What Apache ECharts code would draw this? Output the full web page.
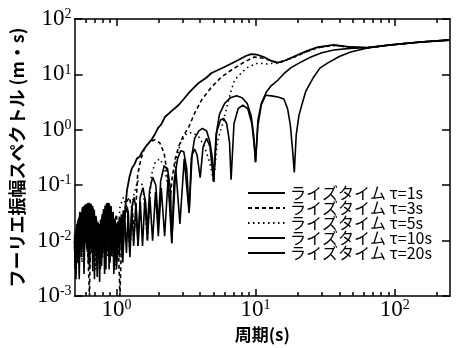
<!DOCTYPE html>
<html>
<head>
<meta charset="utf-8">
<script src="https://cdn.jsdelivr.net/npm/echarts@6/dist/echarts.min.js"></script>
<style>
  html, body { margin: 0; padding: 0; background: #fff; }
  #chart { width: 458px; height: 348px; }
</style>
</head>
<body>
<div id="chart"></div>
<script>
// legend labels
const legendNames = ['ライズタイム τ=1s', 'ライズタイム τ=3s', 'ライズタイム τ=5s', 'ライズタイム τ=10s', 'ライズタイム τ=20s'];

// tick positions (period, s) and amplitude decades
const majorX = [1, 10, 100];
const minorX = [0.6, 0.7, 0.8, 0.9, 2, 3, 4, 5, 6, 7, 8, 9, 20, 30, 40, 50, 60, 70, 80, 90, 200];
const majorY = [0.001, 0.01, 0.1, 1, 10, 100];

// [period (s), Fourier amplitude (m·s)]
const rise1 = [
  [0.50,0.010],[0.505,0.004],[0.51,0.014],[0.517,0.005],[0.523,0.02],[0.53,0.006],[0.537,0.026],[0.545,0.008],
  [0.553,0.032],[0.56,0.009],[0.568,0.038],[0.576,0.012],[0.585,0.042],[0.593,0.01],[0.602,0.045],[0.61,0.013],
  [0.62,0.047],[0.628,0.011],[0.637,0.048],[0.646,0.014],[0.655,0.046],[0.664,0.01],[0.673,0.042],[0.682,0.012],
  [0.692,0.036],[0.70,0.008],[0.71,0.028],[0.72,0.006],[0.73,0.022],[0.74,0.005],[0.75,0.02],[0.76,0.007],
  [0.77,0.024],[0.78,0.008],[0.79,0.03],[0.80,0.01],[0.81,0.037],[0.82,0.012],[0.83,0.043],[0.84,0.011],
  [0.85,0.047],[0.86,0.013],[0.87,0.048],[0.88,0.012],[0.89,0.045],[0.90,0.01],[0.91,0.04],[0.92,0.008],
  [0.935,0.032],[0.95,0.006],[0.965,0.025],[0.98,0.005],[0.995,0.02],[1.01,0.007],[1.025,0.022],[1.04,0.008],
  [1.055,0.026],[1.07,0.01],[1.085,0.03],[1.10,0.012],[1.12,0.035],[1.14,0.025],
  [1.19,0.08],[1.24,0.14],[1.29,0.2],[1.35,0.24],[1.4,0.3],[1.47,0.33],[1.53,0.4],[1.65,0.52],[1.8,0.68],
  [1.9,0.85],[2.0,1.1],[2.1,1.25],[2.23,1.7],[2.5,2.2],[2.8,2.8],[3.05,3.6],[3.31,4.62],[3.9,7.0],[4.4,8.6],
  [4.83,10.6],[5.98,13.6],[7.52,18.2],[8.5,21.5],[9.31,23.2],[10.2,22.8],[11.5,20.6],[13,17.5],
  [14.5,16.3],[16.5,18],[18.9,21],[23,26],[28,31],[36.5,34],[48.3,31.2],[63.9,30.5],[93.1,34],[153,38.4],[250,41.8]
];
const rise3 = [
  [0.50,0.011],[0.51,0.006],[0.52,0.018],[0.535,0.004],[0.55,0.028],[0.565,0.007],[0.58,0.04],[0.595,0.009],
  [0.61,0.044],[0.625,0.005],[0.64,0.001],[0.655,0.03],[0.67,0.012],[0.685,0.035],[0.70,0.006],[0.715,0.02],
  [0.73,0.003],[0.745,0.018],[0.76,0.005],[0.78,0.022],[0.795,0.006],[0.81,0.035],[0.825,0.009],[0.845,0.044],
  [0.86,0.008],[0.875,0.046],[0.89,0.01],[0.905,0.04],[0.92,0.005],[0.94,0.03],[0.96,0.004],[0.98,0.022],
  [1.0,0.03],[1.03,0.01],[1.06,0.001],[1.09,0.012],[1.13,0.03],[1.18,0.05],[1.24,0.06],[1.3,0.035],[1.35,0.015],
  [1.42,0.15],[1.5,0.3],[1.6,0.48],[1.75,0.62],[1.9,0.66],[2.05,0.58],[2.2,0.38],[2.33,0.15],[2.42,0.05],
  [2.52,0.14],[2.65,0.3],[2.8,0.5],[3.0,0.75],[3.31,1.12],[3.65,2.0],[4.09,3.45],[4.83,5.9],[5.7,9.0],
  [6.7,12],[8.3,16.7],[9.8,20.6],[11.5,19.5],[14.5,16],[18.9,20.5],[23,25.5],[28,30.5],[36.5,33.5],
  [48.3,31],[63.9,30.2],[93.1,34],[153,38.4],[250,41.8]
];
const rise5 = [
  [0.50,0.009],[0.507,0.016],[0.515,0.003],[0.525,0.022],[0.54,0.005],[0.552,0.03],[0.565,0.004],[0.578,0.038],
  [0.59,0.008],[0.605,0.043],[0.618,0.006],[0.632,0.046],[0.645,0.004],[0.66,0.042],[0.675,0.007],[0.69,0.033],
  [0.705,0.003],[0.72,0.024],[0.735,0.004],[0.752,0.02],[0.768,0.003],[0.785,0.026],[0.80,0.005],[0.815,0.036],
  [0.83,0.006],[0.85,0.045],[0.865,0.005],[0.882,0.045],[0.90,0.004],[0.918,0.036],[0.935,0.005],[0.955,0.026],
  [0.975,0.003],[0.99,0.02],[1.0,0.004],[1.06,0.04],[1.12,0.06],[1.19,0.04],[1.25,0.006],[1.32,0.06],
  [1.42,0.12],[1.55,0.1],[1.67,0.01],[1.78,0.15],[1.9,0.26],[2.05,0.3],[2.2,0.22],[2.38,0.08],[2.5,0.012],
  [2.65,0.25],[2.9,0.6],[3.2,0.85],[3.5,0.9],[3.9,0.75],[4.3,0.5],[4.7,0.25],[5.0,0.115],[5.3,0.6],
  [5.9,1.5],[6.4,3.4],[6.7,5.2],[7.06,7.9],[8.0,11],[8.87,13.6],[10.4,16],[12.1,15.4],[13.6,16],[14.5,15.8],
  [18.9,20.3],[23,25.5],[28,30.3],[36.5,33.3],[48.3,31],[63.9,30],[93.1,34],[153,38.4],[250,41.8]
];
const rise10 = [
  [0.50,0.013],[0.512,0.002],[0.52,0.02],[0.532,0.006],[0.545,0.033],[0.558,0.005],[0.572,0.041],[0.585,0.0025],
  [0.598,0.045],[0.612,0.007],[0.625,0.047],[0.64,0.003],[0.652,0.044],[0.667,0.006],[0.68,0.038],[0.695,0.002],
  [0.708,0.026],[0.724,0.005],[0.74,0.021],[0.757,0.0018],[0.773,0.023],[0.79,0.005],[0.806,0.032],[0.822,0.0025],
  [0.838,0.042],[0.855,0.006],[0.87,0.047],[0.886,0.003],[0.902,0.042],[0.92,0.006],[0.94,0.03],[0.958,0.0025],
  [0.975,0.022],[0.99,0.006],[1.0,0.003],[1.05,0.025],[1.11,0.004],[1.15,0.03],[1.2,0.04],[1.25,0.005],
  [1.29,0.04],[1.34,0.06],[1.39,0.035],[1.43,0.008],[1.48,0.06],[1.55,0.09],[1.62,0.05],[1.67,0.015],
  [1.73,0.08],[1.82,0.14],[1.92,0.1],[2.0,0.02],[2.08,0.12],[2.2,0.22],[2.33,0.2],[2.45,0.08],[2.5,0.009],
  [2.6,0.12],[2.75,0.3],[2.9,0.42],[3.05,0.4],[3.2,0.2],[3.33,0.032],[3.45,0.3],[3.65,0.7],[3.9,0.95],
  [4.15,1.06],[4.45,0.95],[4.7,0.6],[4.9,0.3],[5.0,0.115],[5.2,0.8],[5.5,1.9],[6.0,3.0],[6.6,3.8],[7.3,4.1],
  [8.0,3.8],[8.7,3.0],[9.3,1.8],[9.7,0.8],[10.0,0.26],[10.4,1.5],[11.0,3.0],[11.95,4.8],[13,6.3],[14.5,7.9],
  [16,10.3],[17.9,13.1],[21,16.5],[25,20.6],[30,24.5],[36.5,27.5],[48,29.5],[63.9,30.5],[93.1,34],[153,38.4],[250,41.8]
];
const rise20 = [
  [0.50,0.008],[0.506,0.003],[0.514,0.017],[0.522,0.004],[0.53,0.024],[0.54,0.002],[0.55,0.03],[0.561,0.008],
  [0.572,0.036],[0.583,0.004],[0.594,0.043],[0.605,0.009],[0.616,0.046],[0.628,0.004],[0.64,0.047],[0.652,0.008],
  [0.664,0.043],[0.676,0.0028],[0.688,0.036],[0.70,0.006],[0.713,0.027],[0.727,0.0022],[0.74,0.02],[0.754,0.006],
  [0.768,0.02],[0.782,0.0035],[0.796,0.028],[0.81,0.007],[0.825,0.037],[0.84,0.003],[0.855,0.044],[0.87,0.008],
  [0.885,0.047],[0.90,0.004],[0.915,0.042],[0.93,0.007],[0.947,0.033],[0.963,0.003],[0.98,0.024],[1.0,0.004],
  [1.025,0.02],[1.05,0.005],[1.08,0.025],[1.11,0.006],[1.145,0.03],[1.18,0.006],[1.215,0.035],[1.25,0.007],
  [1.29,0.04],[1.33,0.008],[1.38,0.045],[1.43,0.008],[1.485,0.05],[1.54,0.008],[1.6,0.055],[1.67,0.01],
  [1.74,0.06],[1.82,0.01],[1.91,0.075],[2.0,0.012],[2.1,0.09],[2.22,0.012],[2.35,0.13],[2.5,0.009],
  [2.67,0.2],[2.86,0.02],[3.07,0.3],[3.33,0.032],[3.5,0.35],[3.65,0.45],[3.8,0.35],[4.0,0.137],[4.2,0.5],
  [4.45,0.7],[4.7,0.5],[5.0,0.115],[5.25,0.9],[5.6,1.5],[5.9,1.6],[6.2,1.3],[6.5,0.6],[6.67,0.125],[7.0,1.3],
  [7.5,2.4],[8.1,2.8],[8.8,2.4],[9.4,1.3],[9.8,0.5],[10.0,0.26],[10.4,1.2],[11.0,2.8],[11.8,4.2],[13,4.1],
  [14.5,3.9],[16,3.6],[17,2.4],[17.8,1.2],[18.5,0.4],[19.0,0.17],[19.6,0.8],[20.5,1.8],[21.5,2.8],[23,5],
  [26.2,9],[29,13],[32.9,16],[40,21],[48.3,25.4],[63.9,30],[93.1,34],[153,38.4],[250,41.8]
];

const seriesData = [rise1, rise3, rise5, rise10, rise20];
const dashTypes = ['solid', [4, 3], [1.5, 3.5], 'solid', 'solid'];

const myChart = echarts.init(document.getElementById('chart'), null, { renderer: 'canvas' });

const serif = 'Liberation Serif';
const jp = 'Noto Sans CJK JP';
const powLabel = v => '{b|10}{e|' + Math.round(Math.log10(v)) + '}';
const powRich = {
  b: { fontSize: 23, fontFamily: serif, color: '#000' },
  e: { fontSize: 14, fontFamily: serif, color: '#000', verticalAlign: 'top', padding: [0, 0, 8, 0] }
};
const black = { color: '#000', width: 1.5 };

const xBase = { type: 'log', logBase: 10, min: 0.5, max: 250, splitLine: { show: false }, minorTick: { show: false } };
const yBase = { type: 'log', logBase: 10, min: 0.001, max: 100, splitLine: { show: false }, minorTick: { show: false } };

myChart.setOption({
  animation: false,
  backgroundColor: '#fff',
  grid: { left: 72, right: 8, top: 19, bottom: 52 },
  legend: {
    orient: 'vertical',
    left: 242,
    top: 180,
    itemWidth: 37,
    itemHeight: 10,
    itemGap: -1,
    itemStyle: { opacity: 0 },
    textStyle: { fontSize: 16, fontFamily: jp, color: '#000', lineHeight: 16 },
    data: legendNames
  },
  xAxis: [
    Object.assign({}, xBase, {
      position: 'bottom',
      name: '周期(s)', nameLocation: 'middle', nameGap: 15,
      nameTextStyle: { fontSize: 17, fontFamily: jp, color: '#000', fontWeight: 'bold' },
      axisLine: { lineStyle: black },
      axisTick: { inside: true, length: 7, customValues: majorX, lineStyle: black },
      axisLabel: { customValues: majorX, formatter: powLabel, rich: powRich, margin: 2 }
    }),
    Object.assign({}, xBase, {
      position: 'bottom',
      axisLine: { show: false },
      axisTick: { inside: true, length: 4, customValues: minorX, lineStyle: black },
      axisLabel: { show: false }
    }),
    Object.assign({}, xBase, {
      position: 'top',
      axisLine: { lineStyle: black },
      axisTick: { inside: true, length: 7, customValues: majorX, lineStyle: black },
      axisLabel: { show: false }
    }),
    Object.assign({}, xBase, {
      position: 'top',
      axisLine: { show: false },
      axisTick: { inside: true, length: 4, customValues: minorX, lineStyle: black },
      axisLabel: { show: false }
    })
  ],
  yAxis: [
    Object.assign({}, yBase, {
      position: 'left',
      name: 'フーリエ振幅スペクトル (m・s)', nameLocation: 'middle', nameGap: 37, nameRotate: 90,
      nameTextStyle: { fontSize: 18, fontFamily: jp, color: '#000', fontWeight: 'bold' },
      axisLine: { lineStyle: black },
      axisTick: { inside: true, length: 8, customValues: majorY, lineStyle: black },
      axisLabel: { customValues: majorY, formatter: powLabel, rich: powRich, margin: 3 }
    }),
    Object.assign({}, yBase, {
      position: 'right',
      axisLine: { lineStyle: black },
      axisTick: { inside: true, length: 8, customValues: majorY, lineStyle: black },
      axisLabel: { show: false }
    })
  ],
  series: seriesData.map((d, i) => ({
    name: legendNames[i],
    type: 'line',
    xAxisIndex: 0,
    yAxisIndex: 0,
    data: d,
    symbol: 'none',
    showSymbol: false,
    lineStyle: { color: '#000', width: i === 0 ? 1.8 : 1.6, type: dashTypes[i] },
    itemStyle: { color: '#000' }
  }))
});
</script>
</body>
</html>
